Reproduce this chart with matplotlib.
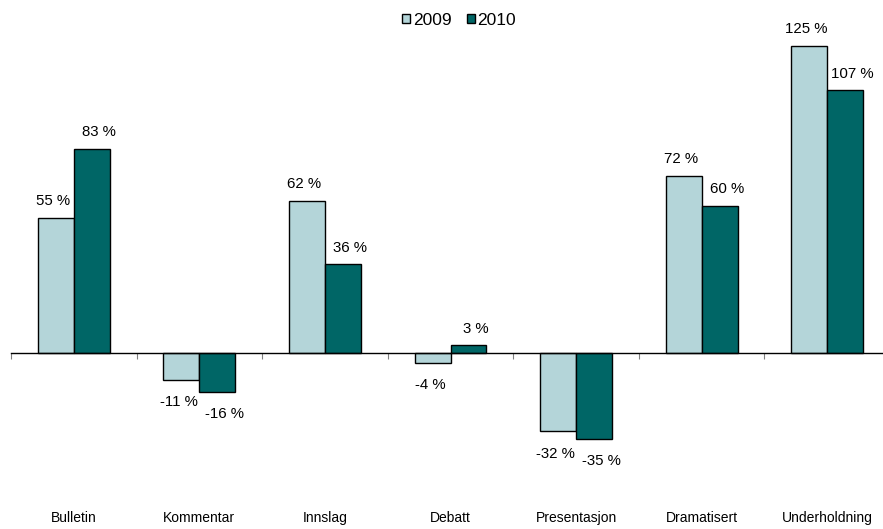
import matplotlib.pyplot as plt
import numpy as np

plt.rcParams['font.family'] = ['Liberation Sans', 'DejaVu Sans']

categories = ['Bulletin', 'Kommentar', 'Innslag', 'Debatt', 'Presentasjon', 'Dramatisert', 'Underholdning']
series_names = ['2009', '2010']
values_2009 = [55, -11, 62, -4, -32, 72, 125]
values_2010 = [83, -16, 36, 3, -35, 60, 107]

colors = ['#B4D5D9', '#006666']

fig = plt.figure(figsize=(8.83, 5.29), dpi=100)
ax = fig.add_axes([11 / 883, 29 / 529, 879 / 883, 490 / 529])

x = np.arange(len(categories))
w = 0.286
for k, (vals, name) in enumerate([(values_2009, series_names[0]), (values_2010, series_names[1])]):
    pos = x + (k - 0.5) * w
    ax.bar(pos, vals, width=w, color=colors[k], edgecolor='black', linewidth=1, label=name)
    for px, v in zip(pos, vals):
        off = 12 if v >= 0 else -16
        ax.annotate(f'{v} %', (px + (0.06 if k == 1 else -0.02), v), xytext=(0, off),
                    textcoords='offset points', ha='center', va='center', fontsize=10.8)

ax.set_xlim(-0.5, 6.5)
ax.set_ylim(-60, 139.7)

for s in ['top', 'left', 'right']:
    ax.spines[s].set_visible(False)
ax.spines['bottom'].set_position(('data', 0))
ax.spines['bottom'].set_linewidth(1)
ax.set_yticks([])
ax.set_xticks(np.arange(-0.5, 7, 1))
ax.set_xticklabels([])
ax.tick_params(axis='x', length=4, color='#808080', direction='out')

for i, c in enumerate(categories):
    ax.text(i, -0.037, c, transform=ax.get_xaxis_transform(), ha='center', va='center', fontsize=10)

fig.legend(loc='center', bbox_to_anchor=(0.52, 0.962), ncol=2, frameon=False,
           handlelength=0.45, handleheight=0.45, handletextpad=0.15, columnspacing=0.9, fontsize=12.5)

fig.savefig('out.png', dpi=100)
